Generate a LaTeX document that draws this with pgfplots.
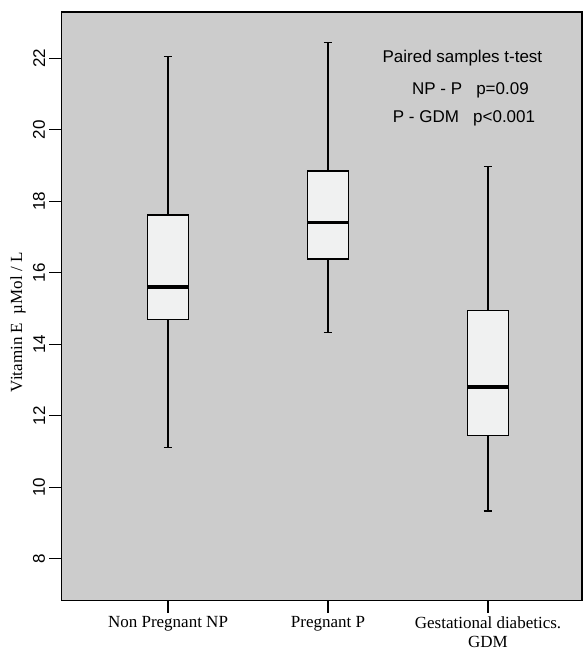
\documentclass[border=0pt]{standalone}
\usepackage{fontspec}
\setmainfont{Liberation Serif}
\newfontfamily\sansf{Liberation Sans}
\usepackage{pgfplots}
\pgfplotsset{compat=1.18}
\usepgfplotslibrary{statistics}
\definecolor{bg}{RGB}{204,204,204}
\definecolor{boxfill}{RGB}{240,241,241}
\begin{document}
\begin{tikzpicture}
\useasboundingbox (-61.3pt,-59.3pt) rectangle (521.7pt,600.7pt);
\begin{axis}[
  at={(0pt,0pt)}, anchor=south west,
  scale only axis, width=520.7pt, height=588.7pt,
  xmin=-0.667, xmax=2.5875,
  ymin=6.83, ymax=23.295,
  axis background/.style={fill=bg},
  axis line style={line width=1.3pt, black},
  tick pos=left, tick align=outside,
  major tick length=12pt,
  tick style={line width=1.1pt, black},
  xtick={0,1,2},
  xticklabels={Non Pregnant NP, Pregnant P, {Gestational diabetics.\\GDM}},
  xticklabel style={font=\fontsize{17}{19}\selectfont, align=center},
  ytick={8,10,...,22},
  /pgf/number format/assume math mode=true,
  yticklabel style={font=\sansf\fontsize{17}{20}\selectfont, rotate=90, anchor=south, inner sep=4pt},
  ylabel={Vitamin E \ \textmu Mol / L},
  ylabel style={font=\fontsize{17}{20}\selectfont, at={(axis description cs:-0.083,0.473)}, anchor=center, rotate=0},
  boxplot/draw direction=y,
  boxplot/box extend=0.254,
  boxplot/whisker extend=0.056,
  boxplot/every box/.style={draw=black, fill=boxfill, line width=1.5pt},
  boxplot/every whisker/.style={draw=black, line width=1.2pt},
  boxplot/every median/.style={line width=3.3pt, draw=black},
  cycle list={{draw=black, fill=boxfill, mark=none}},
]
\addplot+[boxplot prepared={lower whisker=11.11, lower quartile=14.70, median=15.60,
    upper quartile=17.62, upper whisker=22.04, draw position=0}, draw=black, fill=boxfill, line width=1.3pt] coordinates {};
\addplot+[boxplot prepared={lower whisker=14.34, lower quartile=16.39, median=17.40,
    upper quartile=18.85, upper whisker=22.45, draw position=1}, draw=black, fill=boxfill, line width=1.3pt] coordinates {};
\addplot+[boxplot prepared={lower whisker=9.34, lower quartile=11.45, median=12.81,
    upper quartile=14.95, upper whisker=18.97, draw position=2}, draw=black, fill=boxfill, line width=1.3pt] coordinates {};
\node[font=\sansf\fontsize{17}{20}\selectfont] at (axis cs:1.84,22.0) {Paired samples t-test};
\node[font=\sansf\fontsize{17}{20}\selectfont] at (axis cs:1.89,21.11) {NP - P\ \ \ p=0.09};
\node[font=\sansf\fontsize{17}{20}\selectfont] at (axis cs:1.85,20.33) {P - GDM\ \ \ p<0.001};
\end{axis}
\end{tikzpicture}
\end{document}
